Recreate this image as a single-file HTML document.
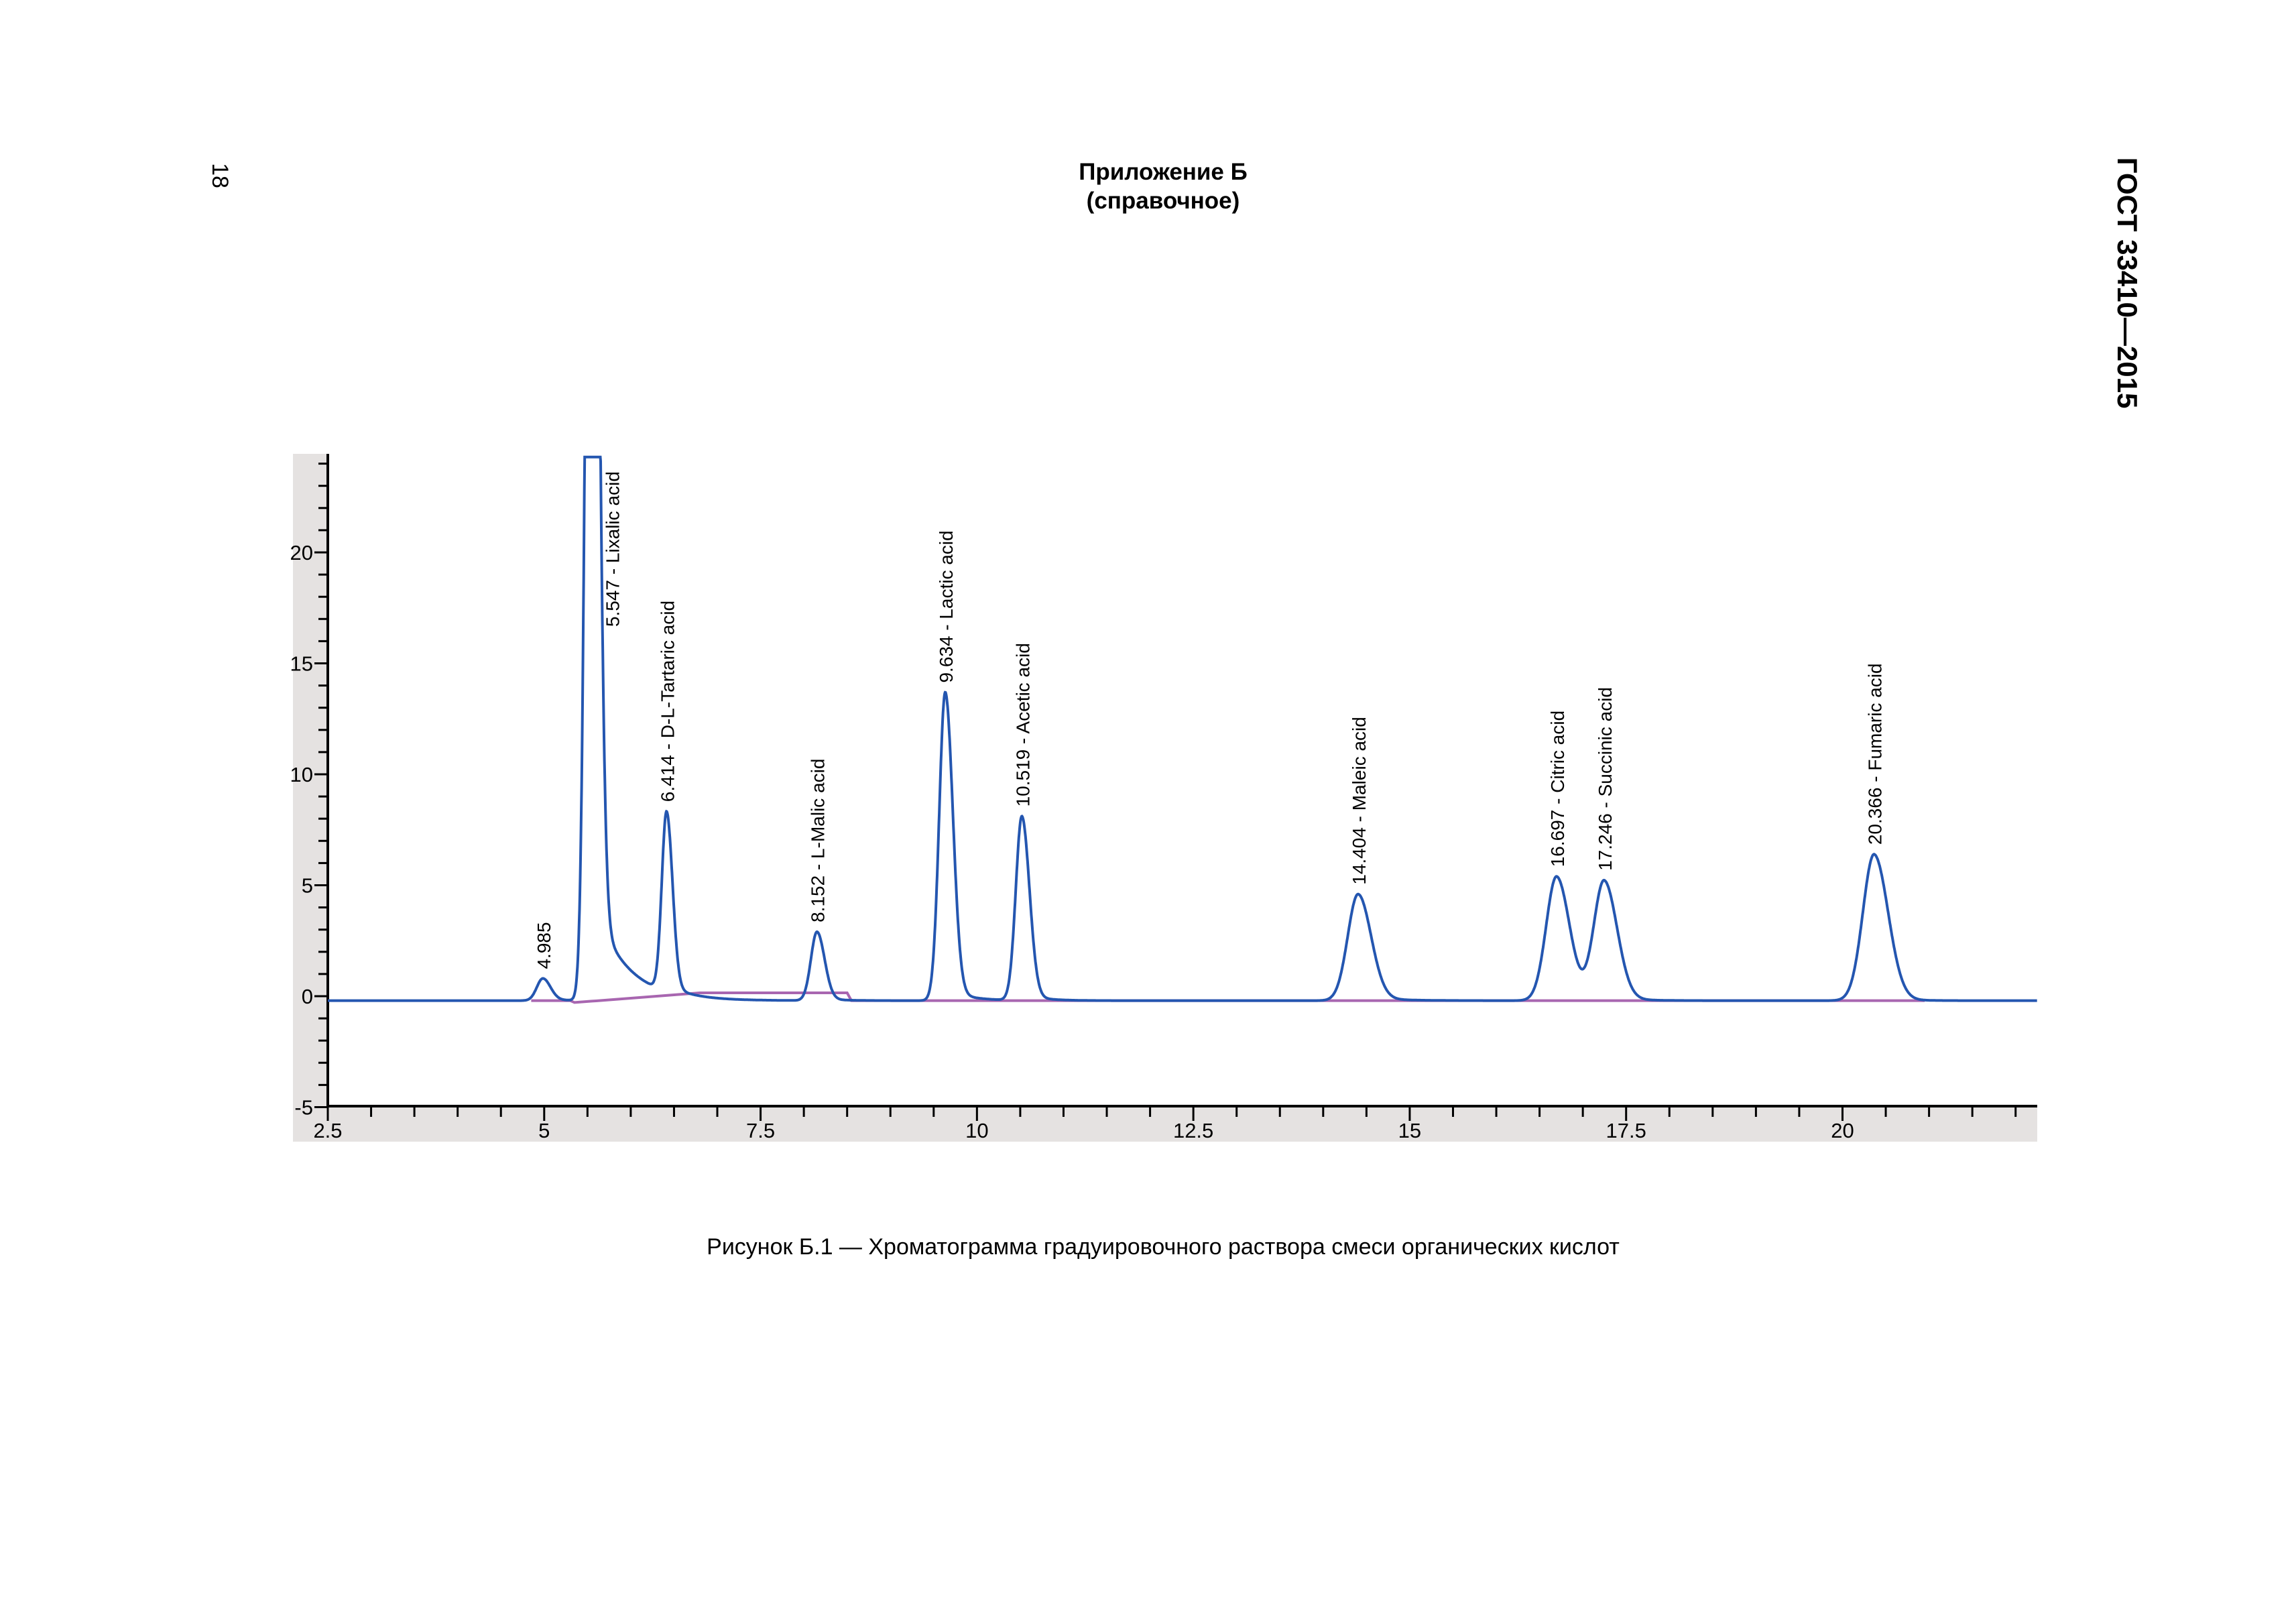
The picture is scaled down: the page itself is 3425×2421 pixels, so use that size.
<!DOCTYPE html>
<html><head><meta charset="utf-8"><style>
html,body{margin:0;padding:0;background:#fff;}
svg{display:block;font-family:"Liberation Sans",Arial,sans-serif;}
</style></head><body>
<svg id="chart" width="3425" height="2421" viewBox="0 0 3425 2421" xmlns="http://www.w3.org/2000/svg">
<text x="317" y="262" font-size="34" transform="rotate(90 317 262)" text-anchor="middle">18</text>
<text x="1735" y="268" font-size="35" font-weight="bold" text-anchor="middle">Приложение Б</text>
<text x="1735" y="311" font-size="35" font-weight="bold" text-anchor="middle">(справочное)</text>
<text x="3159" y="422" font-size="42" font-weight="bold" text-anchor="middle" transform="rotate(90 3159 422)">ГОСТ 33410—2015</text>
<rect x="437" y="677" width="52" height="1026" fill="#e5e2e1"/>
<rect x="437" y="1650" width="2602" height="53" fill="#e5e2e1"/>
<g id="axes"></g>
<g id="plot"></g>
<text x="1735" y="1871" font-size="34" text-anchor="middle">Рисунок Б.1 — Хроматограмма градуировочного раствора смеси органических кислот</text>
</svg>
<script>
const peakTimes = [4.985, 5.547, 6.414, 8.152, 9.634, 10.519, 14.404, 16.697, 17.246, 20.366];
const peakHeights = [1.0, 60, 8.1, 3.1, 13.9, 8.3, 4.8, 5.6, 5.4, 6.6];
const peakWidths = [0.07, 0.06, 0.055, 0.07, 0.07, 0.07, 0.12, 0.12, 0.12, 0.13];
const peakTails = [0.1, 0.09, 0.06, 0.05, 0.06, 0.05, 0.08, 0.06, 0.06, 0.05];
const peakNames = ["4.985", "5.547 - Lixalic acid", "6.414 - D-L-Tartaric acid", "8.152 - L-Malic acid", "9.634 - Lactic acid", "10.519 - Acetic acid", "14.404 - Maleic acid", "16.697 - Citric acid", "17.246 - Succinic acid", "20.366 - Fumaric acid"];
const xTicks = [2.5, 5, 7.5, 10, 12.5, 15, 17.5, 20];
const yTicks = [-5, 0, 5, 10, 15, 20];
const baselineLevel = -0.2;

const NS = "http://www.w3.org/2000/svg";
const X0 = 489, XR = 3039, YTOP = 677, YBOT = 1650;
const xMin = 2.5, xMax = 22.25, yMin = -5, yMax = 24.3;
function xs(v){ return X0 + (v - xMin) / (xMax - xMin) * (XR - X0); }
function ys(v){ return 1486 - v * 33.1; }
function mk(tag, attrs, parent){ const e = document.createElementNS(NS, tag); for (const k in attrs) e.setAttribute(k, attrs[k]); parent.appendChild(e); return e; }
const axes = document.getElementById('axes');
const plot = document.getElementById('plot');

// axes lines
const yl = mk('line', {x1:X0, y1:YTOP, x2:X0, y2:YBOT, stroke:'#000', 'stroke-width':4}, axes);


const xl = mk('line', {x1:X0, y1:YBOT, x2:XR, y2:YBOT, stroke:'#000', 'stroke-width':4}, axes);



for (let v = 2.5; v <= 22.25; v += 0.5) {
  const major = xTicks.includes(v);
  const t = mk('line', {x1:xs(v), y1:YBOT, x2:xs(v), y2:YBOT + (major ? 22 : 16), stroke:'#000', 'stroke-width':3}, axes);
  
  
}
xTicks.forEach(v => {
  const t = mk('text', {x:xs(v), y:1697, 'font-size':31, 'text-anchor':'middle'}, axes);
  t.textContent = v;
  
  
});
for (let v = -5; v <= 24; v += 1) {
  const major = yTicks.includes(v);
  const t = mk('line', {x1:X0 - (major ? 20 : 14), y1:ys(v), x2:X0, y2:ys(v), stroke:'#000', 'stroke-width':3}, axes);
  
  
}
yTicks.forEach(v => {
  const t = mk('text', {x:X0 - 22, y:ys(v) + 11, 'font-size':31, 'text-anchor':'end'}, axes);
  t.textContent = v;
  
  
});

function peakVal(i, t){
  const t0 = peakTimes[i], h = peakHeights[i], s = peakWidths[i], tau = peakTails[i] * 4;
  const d = t - t0;
  if (d < 0) return h * Math.exp(-0.5 * (d / s) ** 2);
  const sR = s * 1.25;
  const frac = i === 1 ? 0.08 : 0.04;
  return h * ((1 - frac) * Math.exp(-0.5 * (d / sR) ** 2) + frac * Math.exp(-d / tau));
}
function signal(t){
  let v = baselineLevel;
  for (let i = 0; i < peakTimes.length; i++) v += peakVal(i, t);
  return v;
}

// integration baseline (purple)
let bl = '';
for (let t = 4.85; t <= 21.0; t += 0.05) {
  let b = baselineLevel;
  if (t > 5.3 && t < 8.5) b = -0.3 + 0.45 * Math.min(1, (t - 5.3) / 1.5);
  bl += (bl ? 'L' : 'M') + xs(t).toFixed(1) + ',' + ys(b).toFixed(1);
}
const blp = mk('path', {d:bl, fill:'none', stroke:'#a866b0', 'stroke-width':4}, plot);



// signal
let d = '';
for (let t = 2.5; t <= 22.25; t += 0.004) {
  let v = Math.min(signal(t), yMax);
  d += (d ? 'L' : 'M') + xs(t).toFixed(1) + ',' + ys(v).toFixed(1);
}
const sp = mk('path', {d:d, fill:'none', stroke:'#2456b0', 'stroke-width':4}, plot);



peakTimes.forEach((t, i) => {
  let top = Math.min(signal(t), yMax);
  let px = xs(t) + 11;
  let py = ys(top) - 14;
  if (i === 1) { px = xs(t) + 41; py = 935; }
  const lab = mk('text', {x:px, y:py, 'font-size':28, transform:'rotate(-90 ' + px + ' ' + py + ')'}, plot);
  lab.textContent = peakNames[i];
  
  
});
</script>
</body></html>
